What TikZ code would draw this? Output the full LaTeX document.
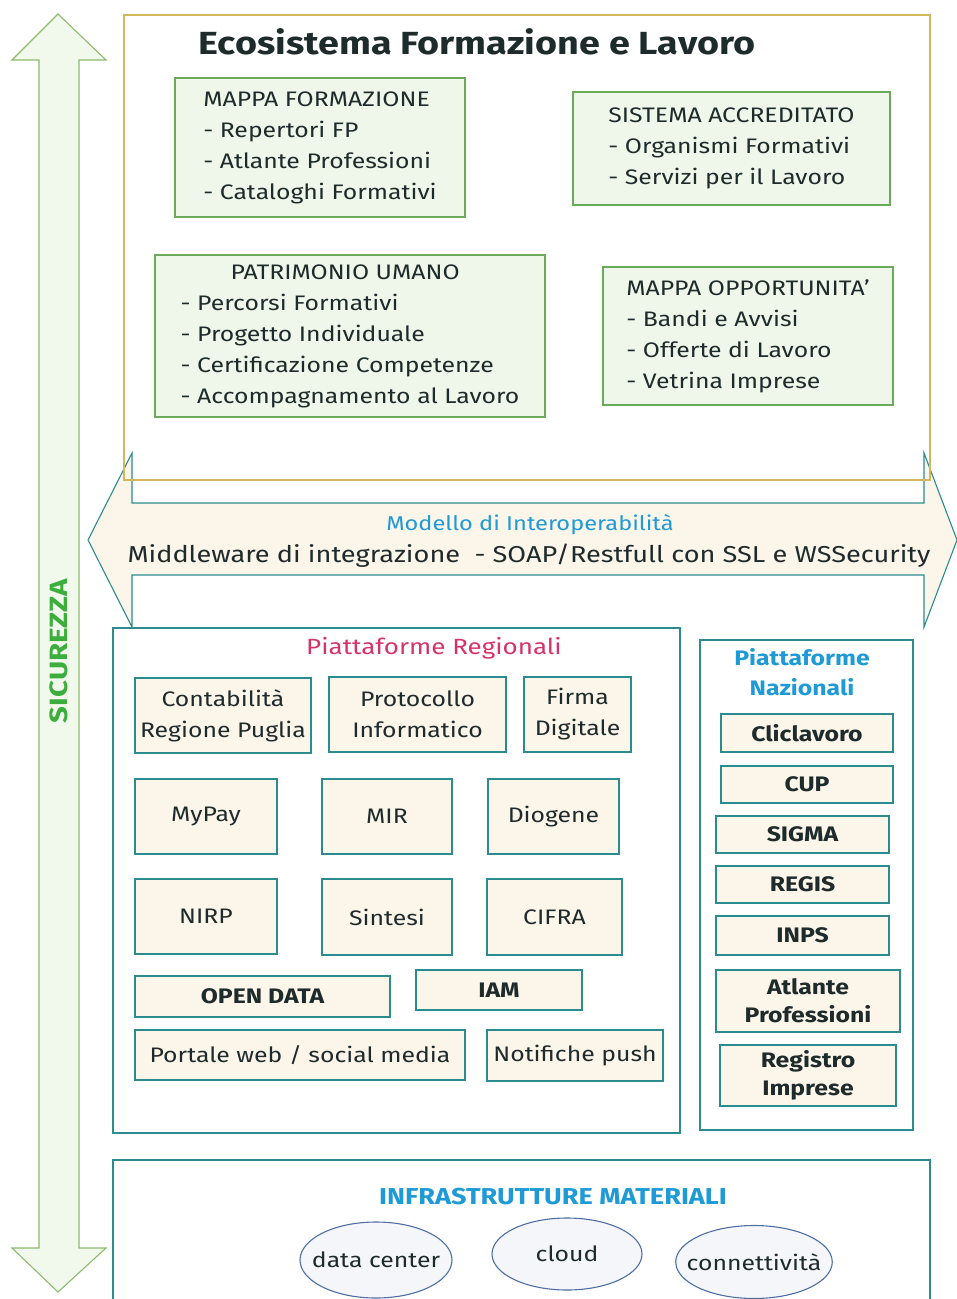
\documentclass[tikz,border=0pt]{standalone}
\usepackage{fontspec}
\setmainfont{Fira Sans}[FakeStretch=1.18]
\usepackage{xcolor}
\usetikzlibrary{shapes.geometric}

\definecolor{secgreen}{HTML}{8DBB6E}
\definecolor{secfill}{HTML}{F1F8EC}
\definecolor{secink}{HTML}{3DAE3D}
\definecolor{ecogold}{HTML}{D2B75C}
\definecolor{boxgreen}{HTML}{6BAA5B}
\definecolor{boxgreenfill}{HTML}{EEF7EA}
\definecolor{tealline}{HTML}{2A8C8F}
\definecolor{creamfill}{HTML}{FCF5EA}
\definecolor{titleblue}{HTML}{1E9AD6}
\definecolor{regpink}{HTML}{D6336C}
\definecolor{infrablue}{HTML}{4D6FA3}
\definecolor{infrafill}{HTML}{F4F6FA}
\definecolor{inkdark}{HTML}{1E2B2B}

\begin{document}
\begin{tikzpicture}[
		x=1pt, y=-1pt,
		line width=1.1pt,
		every node/.style={text=inkdark, inner sep=0pt},
		sec arrow/.style={draw=secgreen, fill=secfill},
		int arrow/.style={draw=tealline, fill=creamfill},
		eco frame/.style={draw=ecogold},
		greenbox/.style={draw=boxgreen, fill=boxgreenfill, align=left, font=\fontsize{21}{31}\selectfont},
		platform/.style={draw=tealline},
		regbox/.style={draw=tealline, fill=creamfill, align=center, font=\fontsize{21}{31}\selectfont},
		natbox/.style={draw=tealline, fill=creamfill, align=center, font=\fontsize{21}{28}\selectfont\bfseries},
		infra/.style={ellipse, draw=infrablue, fill=infrafill, inner xsep=-12pt, font=\fontsize{21}{24}\selectfont},
		head/.style={font=\fontsize{22}{30}\selectfont, align=center}
		]

	\useasboundingbox (0,0) rectangle (957,1299);

	% Sicurezza
	\draw[sec arrow] (58,14) -- (106,60) -- (79,60) -- (79,1248) -- (106,1248) -- (58,1292)
		-- (12,1248) -- (39,1248) -- (39,60) -- (12,60) -- cycle;
	\node[rotate=90, text=secink, font=\fontsize{25}{26}\selectfont\bfseries] (sicurezza) at (59,651) {SICUREZZA};

	% Modello di interoperabilita
	\draw[int arrow] (88,540) -- (132,453) -- (132,503) -- (924,503) -- (924,453) -- (957,540)
		-- (924,627) -- (924,575) -- (132,575) -- (132,627) -- cycle;
	\node[head, text=titleblue, font=\fontsize{20}{30}\selectfont] (modello) at (530,525) {Modello di Interoperabilità};
	\node[head, font=\fontsize{23}{30}\selectfont] (middleware) at (529,556) {Middleware di integrazione \ - SOAP/Restfull con SSL e WSSecurity};

	% Ecosistema
	\draw[eco frame] (124,15) rectangle (930,480);
	\node[font=\fontsize{32}{36}\selectfont\bfseries] (eco) at (477,42) {Ecosistema Formazione e Lavoro};

	\node[greenbox, minimum width=290, minimum height=139] (formazione) at (320,147.5)
		{MAPPA FORMAZIONE\\- Repertori FP\\- Atlante Professioni\\- Cataloghi Formativi};
	\node[greenbox, minimum width=317, minimum height=113] (accreditato) at (731.5,148.5)
		{SISTEMA ACCREDITATO\\- Organismi Formativi\\- Servizi per il Lavoro};
	\node[greenbox, minimum width=390, minimum height=162] (patrimonio) at (350,336)
		{\hspace*{50pt}PATRIMONIO UMANO\\- Percorsi Formativi\\- Progetto Individuale\\- Certificazione Competenze\\- Accompagnamento al Lavoro};
	\node[greenbox, minimum width=290, minimum height=138] (opportunita) at (748,336)
		{MAPPA OPPORTUNITA'\\- Bandi e Avvisi\\- Offerte di Lavoro\\- Vetrina Imprese};

	% Piattaforme regionali
	\node[platform, minimum width=567, minimum height=505] (regionali) at (396.5,880.5) {};
	\node[head, text=regpink] (reg title) at (434,648) {Piattaforme Regionali};

	\node[regbox, minimum width=176, minimum height=75] (contabilita) at (223,715.5) {Contabilità\\Regione Puglia};
	\node[regbox, minimum width=177, minimum height=75] (protocollo) at (417.5,714.5) {Protocollo\\Informatico};
	\node[regbox, minimum width=107, minimum height=75] (firma) at (577.5,714.5) {Firma\\Digitale};
	\node[regbox, minimum width=142, minimum height=75] (mypay) at (206,816.5) {MyPay};
	\node[regbox, minimum width=130, minimum height=75] (mir) at (387,816.5) {MIR};
	\node[regbox, minimum width=131, minimum height=75] (diogene) at (553.5,816.5) {Diogene};
	\node[regbox, minimum width=142, minimum height=75] (nirp) at (206,916.5) {NIRP};
	\node[regbox, minimum width=130, minimum height=76] (sintesi) at (387,917) {Sintesi};
	\node[regbox, minimum width=135, minimum height=76] (cifra) at (554.5,917) {CIFRA};
	\node[regbox, minimum width=255, minimum height=41, font=\fontsize{21}{24}\selectfont\bfseries] (opendata) at (262.5,996.5) {OPEN DATA};
	\node[regbox, minimum width=166, minimum height=40, font=\fontsize{21}{24}\selectfont\bfseries] (iam) at (499,990) {IAM};
	\node[regbox, minimum width=330, minimum height=50] (portale) at (300,1055) {Portale web / social media};
	\node[regbox, minimum width=176, minimum height=51] (notifiche) at (575,1055.5) {Notifiche push};

	% Piattaforme nazionali
	\node[platform, minimum width=213, minimum height=490] (nazionali) at (806.5,885) {};
	\node[head, text=titleblue, font=\fontsize{21}{30}\selectfont\bfseries] (naz title) at (802,672) {Piattaforme\\Nazionali};

	\node[natbox, minimum width=172, minimum height=38] (cliclavoro) at (807,733) {Cliclavoro};
	\node[natbox, minimum width=172, minimum height=37] (cup) at (807,784.5) {CUP};
	\node[natbox, minimum width=173, minimum height=37] (sigma) at (802.5,834.5) {SIGMA};
	\node[natbox, minimum width=173, minimum height=37] (regis) at (802.5,884.5) {REGIS};
	\node[natbox, minimum width=173, minimum height=39] (inps) at (802.5,935.5) {INPS};
	\node[natbox, minimum width=184, minimum height=62] (atlante) at (808,1001) {Atlante\\Professioni};
	\node[natbox, minimum width=176, minimum height=61] (registro) at (808,1075.5) {Registro\\Imprese};

	% Infrastrutture materiali
	\draw[platform] (113,1299) -- (113,1160) -- (930,1160) -- (930,1299);
	\node[head, text=titleblue, font=\fontsize{23}{24}\selectfont\bfseries] (infra title) at (553,1197) {INFRASTRUTTURE MATERIALI};

	\node[infra, minimum width=152, minimum height=76] (datacenter) at (376,1260) {data center};
	\node[infra, minimum width=150, minimum height=72] (cloud) at (567,1254) {cloud};
	\node[infra, minimum width=155, minimum height=73] (connettivita) at (754,1262) {connettività};

\end{tikzpicture}
\end{document}
